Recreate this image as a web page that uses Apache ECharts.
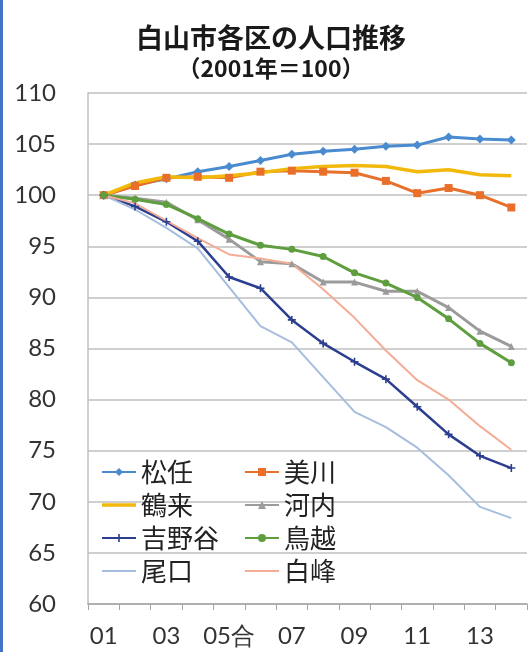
<!DOCTYPE html>
<html>
<head>
<meta charset="utf-8">
<script src="https://cdn.jsdelivr.net/npm/echarts@6/dist/echarts.min.js"></script>
<style>
html,body{margin:0;padding:0;background:#fff;}
#wrap{position:relative;width:532px;height:652px;overflow:hidden;}
#chart{position:absolute;left:0;top:0;width:532px;height:652px;}
#edge{position:absolute;left:0;top:0;width:3px;height:652px;background:#4472C4;}
</style>
</head>
<body>
<div id="wrap"><div id="chart"></div><div id="edge"></div></div>
<script>
const titleText = '白山市各区の人口推移';
const subtitleText = '（2001年＝100）';
const years = ['01','02','03','04','05合','06','07','08','09','10','11','12','13','14'];
const yTicks = {min: 60, max: 110, step: 5};

const matto       = [100, 101.0, 101.6, 102.3, 102.8, 103.4, 104.0, 104.3, 104.5, 104.8, 104.9, 105.7, 105.5, 105.4];
const mikawa      = [100, 100.9, 101.7, 101.8, 101.7, 102.3, 102.4, 102.3, 102.2, 101.4, 100.2, 100.7, 100.0, 98.8];
const tsurugi     = [100, 101.2, 101.8, 101.7, 101.9, 102.2, 102.6, 102.8, 102.9, 102.8, 102.3, 102.5, 102.0, 101.9];
const kawachi     = [100, 99.7, 99.3, 97.6, 95.7, 93.5, 93.3, 91.5, 91.5, 90.6, 90.6, 89.0, 86.7, 85.2];
const yoshinodani = [100, 98.9, 97.4, 95.5, 92.0, 90.9, 87.8, 85.5, 83.7, 82.0, 79.3, 76.6, 74.5, 73.3];
const torigoe     = [100, 99.6, 99.1, 97.7, 96.2, 95.1, 94.7, 94.0, 92.4, 91.4, 90.0, 87.9, 85.5, 83.6];
const oguchi      = [100, 98.6, 96.8, 94.8, 91.0, 87.2, 85.6, 82.2, 78.8, 77.3, 75.3, 72.6, 69.5, 68.4];
const shiramine   = [100, 99.2, 97.5, 95.8, 94.2, 93.8, 93.3, 90.8, 88.0, 84.8, 81.9, 80.0, 77.4, 75.1];

const names = ['松任','美川','鶴来','河内','吉野谷','鳥越','尾口','白峰'];
const values = [matto, mikawa, tsurugi, kawachi, yoshinodani, torigoe, oguchi, shiramine];

const styles = [
  {color:'#4A8BD0', width:3,   symbol:'diamond', size:9},
  {color:'#E8702A', width:3,   symbol:'rect', size:8},
  {color:'#F2B90C', width:3.5, symbol:'none', size:0},
  {color:'#9B9B9B', width:3,   symbol:'triangle', size:7},
  {color:'#2C3E8F', width:2.5, symbol:'path://M4,0H6V4H10V6H6V10H4V6H0V4H4Z', size:8},
  {color:'#5E9E3F', width:3,   symbol:'circle', size:7},
  {color:'#A6BEDD', width:2,   symbol:'none', size:0},
  {color:'#F4AC96', width:2,   symbol:'none', size:0}
];

// plain line icon for legend entries without markers (box kept 34x10 by tiny corner dots)
function lineIcon(h) {
  const a = 5 - h / 2, b = 5 + h / 2;
  return 'path://M0,0H0.01V0.01H0Z M0,' + a + 'H34V' + b + 'H0Z M33.99,9.99H34V10H33.99Z';
}

function legendItem(n) {
  const i = names.indexOf(n);
  if (styles[i].symbol === 'none') return {name: n, icon: lineIcon(styles[i].width)};
  return {name: n};
}

const series = names.map((n, i) => ({
  name: n,
  type: 'line',
  data: values[i],
  symbol: styles[i].symbol,
  symbolSize: styles[i].size,
  showSymbol: styles[i].symbol !== 'none',
  lineStyle: {color: styles[i].color, width: styles[i].width},
  itemStyle: {color: styles[i].color},
  emphasis: {disabled: true},
  animation: false
}));

const legendText = {fontFamily: '"Noto Sans CJK JP"', fontSize: 26, color: '#222', lineHeight: 28};

const chart = echarts.init(document.getElementById('chart'), null, {renderer: 'canvas'});
chart.setOption({
  backgroundColor: '#fff',
  animation: false,
  graphic: [
    {type: 'text', x: 271, y: 38, style: {text: titleText, font: 'bold 27px "Noto Sans CJK JP"', fill: '#1a1a1a', textAlign: 'center', textVerticalAlign: 'middle'}},
    {type: 'text', x: 271, y: 68, style: {text: subtitleText, font: 'bold 23px "Noto Sans CJK JP"', fill: '#1a1a1a', textAlign: 'center', textVerticalAlign: 'middle'}}
  ],
  grid: {left: 88, right: 5, top: 93, bottom: 48, containLabel: false},
  legend: [
    {data: ['松任','鶴来','吉野谷','尾口'].map(legendItem), orient: 'vertical', left: 101, top: 458, itemWidth: 34, itemHeight: 10, itemGap: 5, textStyle: legendText, padding: 0},
    {data: ['美川','河内','鳥越','白峰'].map(legendItem), orient: 'vertical', left: 244, top: 458, itemWidth: 34, itemHeight: 10, itemGap: 5, textStyle: legendText, padding: 0}
  ],
  xAxis: {
    type: 'category',
    data: years,
    boundaryGap: true,
    axisLine: {lineStyle: {color: '#A6A6A6', width: 1.5}},
    axisTick: {show: true, alignWithLabel: false, interval: 0, length: 6, lineStyle: {color: '#A6A6A6'}},
    axisLabel: {interval: 1, margin: 20, fontFamily: 'Lato', fontSize: 24, color: '#333'},
    splitLine: {show: false}
  },
  yAxis: {
    type: 'value',
    min: yTicks.min, max: yTicks.max, interval: yTicks.step,
    axisLine: {show: true, lineStyle: {color: '#BFBFBF', width: 1.5}},
    axisTick: {show: false},
    axisLabel: {margin: 32, fontFamily: 'Lato', fontSize: 24, color: '#333'},
    splitLine: {lineStyle: {color: '#BFBFBF', width: 1.5}}
  },
  series: series
});
</script>
</body>
</html>
